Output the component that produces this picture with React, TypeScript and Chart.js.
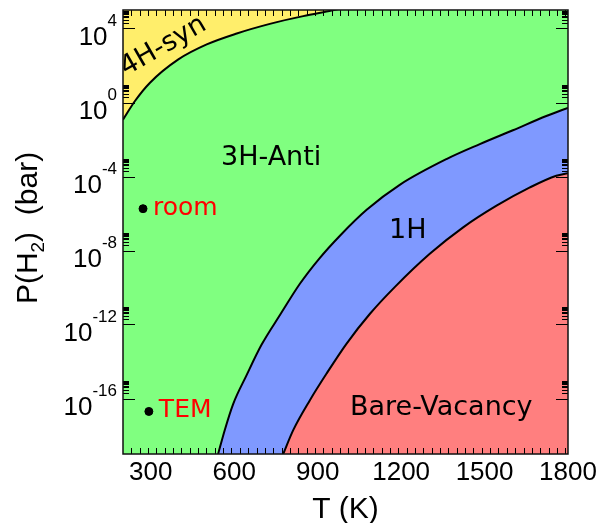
import React, { useEffect, useRef } from "react";
import { Chart, registerables } from "chart.js";

Chart.register(...registerables);

// ---- Data (T in K, log10 of P(H2) in bar) ----
const synT = [200, 243, 297, 399, 501, 609, 728, 848, 950, 975];
const synLogP = [-0.93, 0.08, 1.07, 2.33, 3.14, 3.73, 4.25, 4.67, 4.97, 5.05];

const oneHT = [542, 566, 596, 644, 698, 766, 836, 905, 980, 1076, 1195, 1363, 1483, 1602, 1722, 1800];
const oneHLogP = [-19, -17.7, -16.3, -14.75, -13.1, -11.45, -9.8, -8.45, -7.2, -5.8, -4.45, -3.06, -2.25, -1.5, -0.73, -0.29];

const bareT = [776, 812, 872, 932, 1004, 1088, 1177, 1303, 1423, 1543, 1663, 1758, 1800];
const bareLogP = [-19, -17.71, -16.09, -14.65, -13.03, -11.42, -9.98, -8.18, -6.75, -5.58, -4.59, -3.96, -3.82];

const markerNames = ["room", "TEM"];
const markerT = [272, 293];
const markerLogP = [-5.74, -16.7];

const xTicks = [300, 600, 900, 1200, 1500, 1800];
const yTickExponents = [4, 0, -4, -8, -12, -16];

const regionLabels = ["4H-syn", "3H-Anti", "1H", "Bare-Vacancy"];

const X_MIN = 200, X_MAX = 1800, Y_MIN = -19, Y_MAX = 5;

const GREEN = "#80ff80";
const YELLOW = "#ffee6b";
const BLUE = "#7f99ff";
const RED = "#ff7f7f";

const zip = (xs: number[], ys: number[]) => xs.map((x, i) => ({ x, y: ys[i] }));

const AXIS_FONT = '"Liberation Sans", Arial, sans-serif';
const LABEL_FONT = '"DejaVu Sans", sans-serif';

const decorPlugin = {
  id: "decor",
  beforeDraw(chart: any) {
    const { ctx, chartArea } = chart;
    ctx.save();
    ctx.fillStyle = "#ffffff";
    ctx.fillRect(0, 0, chart.width, chart.height);
    ctx.fillStyle = GREEN;
    ctx.fillRect(chartArea.left, chartArea.top, chartArea.right - chartArea.left, chartArea.bottom - chartArea.top);
    ctx.restore();
  },
  afterDraw(chart: any) {
    const { ctx, chartArea } = chart;
    const { left, right, top, bottom } = chartArea;
    const xs = chart.scales.x;
    const ys = chart.scales.y;
    ctx.save();

    // region labels
    ctx.fillStyle = "#000";
    ctx.textAlign = "left";
    ctx.textBaseline = "alphabetic";
    ctx.font = `27px ${LABEL_FONT}`;
    ctx.save();
    ctx.translate(126, 76);
    ctx.rotate((-30 * Math.PI) / 180);
    ctx.fillText(regionLabels[0], 0, 0);
    ctx.restore();
    ctx.fillText(regionLabels[1], 221, 165);
    ctx.fillText(regionLabels[2], 389, 238);
    ctx.fillText(regionLabels[3], 350, 415);

    // marker labels
    ctx.fillStyle = "#ff0000";
    ctx.font = `25px ${LABEL_FONT}`;
    markerNames.forEach((name, i) => {
      const px = xs.getPixelForValue(markerT[i]);
      const py = ys.getPixelForValue(markerLogP[i]);
      ctx.fillText(name, px + 10, py + 6);
    });

    // ticks
    ctx.strokeStyle = "#000";
    ctx.lineWidth = 1;
    ctx.beginPath();
    for (let t = X_MIN + 30; t < X_MAX; t += 30) {
      const px = Math.round(xs.getPixelForValue(t)) + 0.5;
      const major = xTicks.includes(t);
      const len = major ? 12 : 6;
      ctx.moveTo(px, bottom);
      ctx.lineTo(px, bottom - len);
      ctx.moveTo(px, top);
      ctx.lineTo(px, top + len);
    }
    yTickExponents.forEach((e) => {
      const py = Math.round(ys.getPixelForValue(e)) + 0.5;
      ctx.moveTo(left, py);
      ctx.lineTo(left + 12, py);
      ctx.moveTo(right, py);
      ctx.lineTo(right - 12, py);
      for (let k = 2; k <= 9; k++) {
        const pm = Math.round(ys.getPixelForValue(e + Math.log10(k))) + 0.5;
        ctx.moveTo(left, pm);
        ctx.lineTo(left + 6, pm);
        ctx.moveTo(right, pm);
        ctx.lineTo(right - 6, pm);
      }
    });
    ctx.stroke();

    // border
    ctx.lineWidth = 1.5;
    ctx.strokeStyle = "#111";
    ctx.strokeRect(left, top, right - left, bottom - top);

    // x tick labels
    ctx.fillStyle = "#000";
    ctx.font = `26px ${AXIS_FONT}`;
    ctx.textAlign = "center";
    xTicks.forEach((t) => {
      ctx.fillText(String(t), xs.getPixelForValue(t), 480);
    });

    // y tick labels: 10^e
    ctx.textAlign = "left";
    yTickExponents.forEach((e) => {
      const py = ys.getPixelForValue(e);
      ctx.font = `17px ${AXIS_FONT}`;
      const sup = String(e);
      const supW = ctx.measureText(sup).width;
      ctx.font = `26px ${AXIS_FONT}`;
      const baseW = ctx.measureText("10").width;
      const xEnd = left - 6;
      ctx.fillText("10", xEnd - supW - baseW, py + 16);
      ctx.font = `17px ${AXIS_FONT}`;
      ctx.fillText(sup, xEnd - supW, py - 3);
    });

    // x title
    ctx.font = `30px ${AXIS_FONT}`;
    ctx.textAlign = "center";
    ctx.fillText("T (K)", (left + right) / 2, 518);

    // y title
    ctx.save();
    ctx.translate(37, 228);
    ctx.rotate(-Math.PI / 2);
    ctx.textAlign = "left";
    ctx.font = `30px ${AXIS_FONT}`;
    const p1 = "P(H";
    const p3 = ")  (bar)";
    const w1 = ctx.measureText(p1).width;
    const w3 = ctx.measureText(p3).width;
    ctx.font = `19px ${AXIS_FONT}`;
    const w2 = ctx.measureText("2").width;
    const x0 = -(w1 + w2 + w3) / 2;
    ctx.font = `30px ${AXIS_FONT}`;
    ctx.fillText(p1, x0, 0);
    ctx.font = `19px ${AXIS_FONT}`;
    ctx.fillText("2", x0 + w1, 7);
    ctx.font = `30px ${AXIS_FONT}`;
    ctx.fillText(p3, x0 + w1 + w2, 0);
    ctx.restore();

    ctx.restore();
  },
};

export default function App() {
  const canvasRef = useRef<HTMLCanvasElement | null>(null);

  useEffect(() => {
    document.body.style.margin = "0";
    const canvas = canvasRef.current;
    if (!canvas) return;
    const lineCommon = {
      borderColor: "#000",
      borderWidth: 2,
      pointRadius: 0,
      cubicInterpolationMode: "monotone" as const,
      showLine: true,
    };
    const chart = new Chart(canvas, {
      type: "scatter",
      data: {
        datasets: [
          {
            type: "scatter",
            label: "markers",
            data: zip(markerT, markerLogP),
            pointRadius: 4,
            pointBackgroundColor: "#000",
            pointBorderColor: "#000",
            showLine: false,
          } as any,
          {
            ...lineCommon,
            label: "4H-syn boundary",
            data: zip(synT, synLogP),
            fill: "end",
            backgroundColor: YELLOW,
          } as any,
          {
            ...lineCommon,
            label: "Bare boundary",
            data: zip(bareT, bareLogP),
            fill: "start",
            backgroundColor: RED,
          } as any,
          {
            ...lineCommon,
            label: "1H boundary",
            data: zip(oneHT, oneHLogP),
            fill: "start",
            backgroundColor: BLUE,
          } as any,
        ],
      },
      options: {
        animation: false,
        responsive: false,
        devicePixelRatio: 1,
        layout: { padding: { left: 123, right: 34, top: 10, bottom: 69 } },
        plugins: {
          legend: { display: false },
          tooltip: { enabled: false },
        },
        scales: {
          x: { type: "linear", min: X_MIN, max: X_MAX, display: false },
          y: { type: "linear", min: Y_MIN, max: Y_MAX, display: false },
        },
      },
      plugins: [decorPlugin],
    });
    return () => chart.destroy();
  }, []);

  return (
    <div style={{ width: 602, height: 523 }}>
      <canvas ref={canvasRef} width={602} height={523} style={{ display: "block" }} />
    </div>
  );
}
